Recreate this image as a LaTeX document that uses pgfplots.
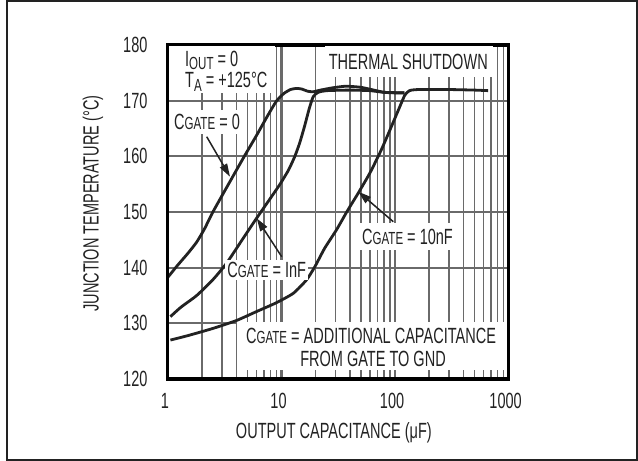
\documentclass[border=0pt]{standalone}
\usepackage{pgfplots}
\pgfplotsset{compat=1.18}
\usepackage{fontspec}
\setmainfont{Liberation Sans}[FakeStretch=0.66]
\usetikzlibrary{arrows.meta}
\newcommand\cf{\fontsize{22}{24}\selectfont}
\newcommand\sm[1]{{\fontsize{17.5}{18}\selectfont #1}}
\definecolor{ink}{HTML}{222222}
\definecolor{gridc}{HTML}{6A6A6A}
\begin{document}
\begin{tikzpicture}[x=1pt,y=1pt]
\useasboundingbox (-168,-82) rectangle (470,379);
\begin{axis}[
  at={(0,0)}, anchor=south west,
  scale only axis, width=340.6pt, height=334pt,
  xmode=log, log basis x=10,
  xmin=1, xmax=1000, ymin=120, ymax=180,
  xtick={1,10,100,1000}, xticklabels={1,10,100,1000},
  minor xtick={2,3,4,5,6,7,8,9,20,30,40,50,60,70,80,90,200,300,400,500,600,700,800,900},
  ytick={120,130,140,150,160,170,180},
  /pgf/number format/assume math mode=true,
  xminorgrids=true, xmajorgrids=true, ymajorgrids=true,
  major grid style={gridc, line width=2.1pt},
  minor grid style={gridc, line width=1.5pt},
  tick style={draw=none},
  axis line style={black, line width=3pt},
  tick label style={font=\cf, text=ink},
  yticklabel style={xshift=-17pt},
  xticklabel style={yshift=-11pt, xshift=-3pt},
  label style={font=\cf, text=ink},
  xlabel={OUTPUT CAPACITANCE (μF)},
  ylabel={JUNCTION TEMPERATURE (°C)},
  xlabel style={at={(axis description cs:0.487,-0.1617)}, anchor=center},
  ylabel style={at={(axis description cs:-0.2202,0.525)}, anchor=center},
]
% CGATE = 0
\addplot[ink, line width=2.8pt, smooth, tension=0.35] coordinates {
(1.0,138.3) (1.2,140.3) (1.5,142.6) (1.79,144.6) (2.1,147.0) (2.5,150.1)
(3.5,155.4) (4.7,160.0) (6.0,163.7) (7.5,167.2) (9.0,169.9) (10.5,171.3)
(12,172.0) (13.5,172.2) (15,172.1) (17,171.7) (19,171.6)
(22,171.9) (28,172.3) (37,172.6) (50,172.4)
(65,171.9) (80,171.5) (100,171.4) (121,171.4)};
% CGATE = 1nF
\addplot[ink, line width=2.8pt, smooth, tension=0.35] coordinates {
(1.05,131.2) (1.3,132.9) (1.79,135.0) (2.5,137.9) (3.28,140.8) (4.5,145.0)
(6.04,148.9) (8.0,152.5) (9.7,155.0) (11.5,157.5) (13.1,160.0) (14.5,162.5)
(16,165.5) (17.5,168.5) (19,170.7) (21,171.5) (25,171.8) (40,171.9)
(60,171.8) (80,171.5) (121,171.4)};
% CGATE = 10nF
\addplot[ink, line width=2.8pt, smooth, tension=0.35] coordinates {
(1.05,127.0) (1.5,127.8) (2.5,129.1) (4,130.5) (6,132.1) (9,133.7)
(12.7,135.4) (16.6,137.8) (19.7,140.2) (24,143.5) (30.5,146.8) (38,150.2)
(47.4,153.4) (60,157.0) (75,161.0) (90,164.7) (110,168.9) (122,171.0)
(134,171.8) (160,172.0) (300,172.0) (500,171.9) (660,171.8)};
\end{axis}
% label boxes
\fill[white] (0,286) rectangle (107,334);
\node[anchor=west, text=ink, font=\cf, inner sep=0pt] at (17,319) {I\raisebox{-3pt}{\sm{OUT}} = 0};
\node[anchor=west, text=ink, font=\cf, inner sep=0pt] at (17,297.3) {T\raisebox{-4pt}{\sm{A}} = +125°C};
\fill[white] (157,302) rectangle (325,334);
\node[text=ink, font=\cf, inner sep=0pt] at (240.3,317.3) {THERMAL SHUTDOWN};
\fill[white] (0,245) rectangle (77,269);
\node[text=ink, font=\cf, inner sep=0pt] at (39,257) {C\sm{GATE} = 0};
\draw[ink, line width=1.5pt, -{Triangle[length=13pt,width=8pt]}] (38.7,242.3) -- (62,202.3);
\fill[white] (57,99) rectangle (140,119);
\node[text=ink, font=\cf, inner sep=0pt] at (98.7,109) {C\sm{GATE} = InF};
\draw[ink, line width=1.5pt, -{Triangle[length=13pt,width=8pt]}] (113.7,122.3) -- (88.7,160.7);
\fill[white] (187,129) rectangle (294,156);
\node[text=ink, font=\cf, inner sep=0pt] at (239.5,141.7) {C\sm{GATE} = 10nF};
\draw[ink, line width=1.5pt, -{Triangle[length=13pt,width=8pt]}] (225.3,157.3) -- (190.3,187.3);
\fill[white] (68.7,9) rectangle (340.6,57);
\node[text=ink, font=\cf, inner sep=0pt] at (203,43.3) {C\sm{GATE} = ADDITIONAL CAPACITANCE};
\node[text=ink, font=\cf, inner sep=0pt] at (205,20) {FROM GATE TO GND};
% frame redraw
\draw[black, line width=3pt] (0,0) rectangle (340.6,334);
% outer border
\draw[ink, line width=2pt] (-161,378) rectangle (468.5,-80.5);
\end{tikzpicture}
\end{document}
